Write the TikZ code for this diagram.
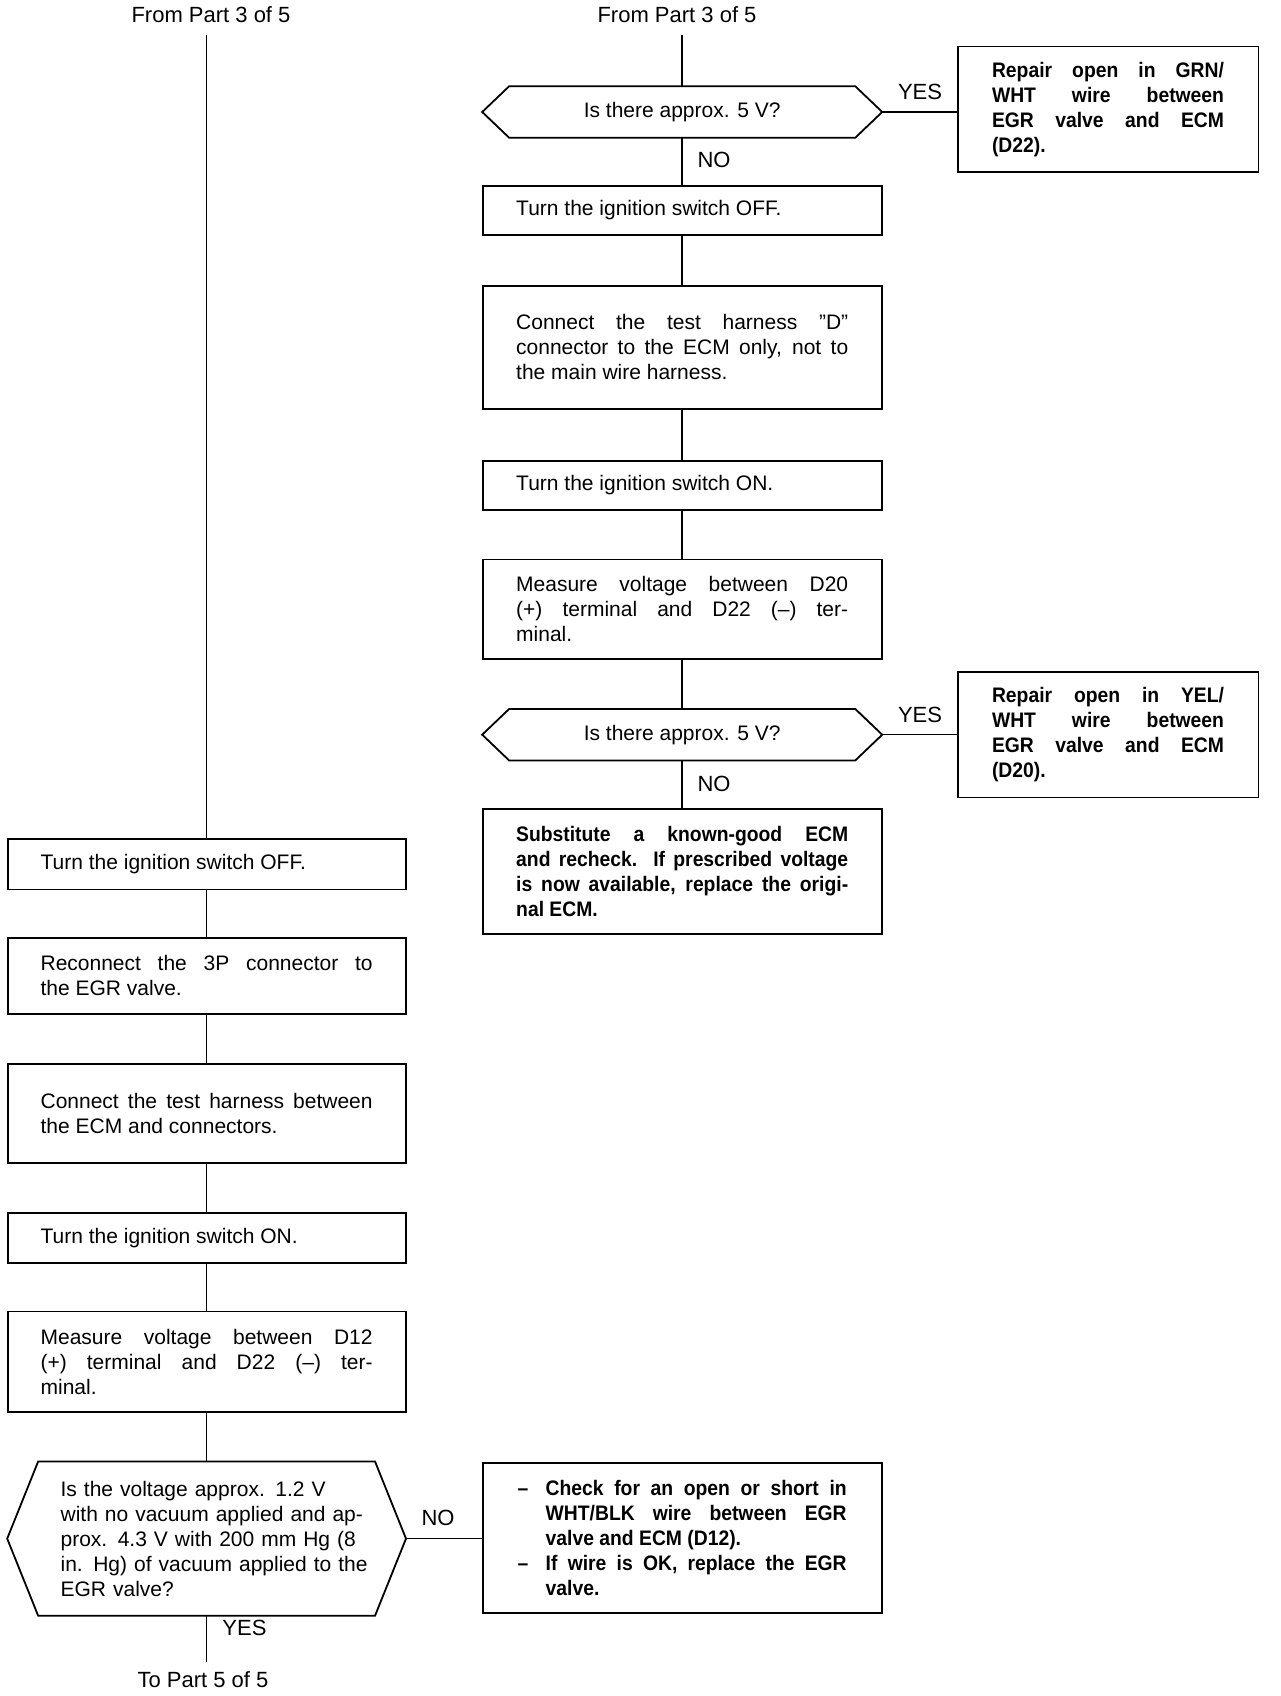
\documentclass[tikz,border=0pt]{standalone}
\usepackage{fontspec}
\setmainfont{Liberation Sans}
\newfontfamily\cfont{Liberation Sans}[FakeStretch=0.92]
\usetikzlibrary{calc}
\tikzset{
  stepbox/.style={draw, line width=0.9pt, rectangle, text width=166pt, inner xsep=16.75pt,
    inner ysep=0pt, align=justify, font=\fontsize{10.5}{12.5}\selectfont},
  boldbox/.style={stepbox, font=\cfont\bfseries\fontsize{10.5}{12.5}\selectfont},
  repbox/.style={boldbox, text width=116pt, inner xsep=17.2pt, minimum height=62.75pt},
  decnode/.style={rectangle, inner ysep=0pt, align=center, font=\fontsize{10.5}{12.5}\selectfont},
  hexline/.style={line width=0.9pt},
  lbl/.style={font=\fontsize{11}{13}\selectfont, inner sep=1pt},
  conn/.style={line width=0.75pt}
}
\newcommand{\drawhexagon}[2]{%
  \draw[hexline] (#1.west) -- ($(#1.north west)+(#2,0)$) -- ($(#1.north east)+(-#2,0)$)
    -- (#1.east) -- ($(#1.south east)+(-#2,0)$) -- ($(#1.south west)+(#2,0)$) -- cycle;}
\newcommand{\ind}{\hspace*{14.5pt}}
\begin{document}
\begin{tikzpicture}[x=0.5pt,y=-0.5pt]
\useasboundingbox (0,0) rectangle (1280,1696);
\fill[white] (0,0) rectangle (1280,1696);

% ---------- right column ----------
\node[lbl] (fromR) at (677,15) {From Part 3 of 5};
\node[decnode, minimum width=199.6pt, minimum height=25.4pt] (d1) at (682.2,112) {Is there approx. 5 V?};
\drawhexagon{d1}{27}
\node[repbox] (rep1) at (1108,109.3) {Repair open in GRN/\linebreak WHT wire between\linebreak EGR valve and ECM\linebreak (D22).};
\node[stepbox, minimum height=24.4pt] (roff) at (682.2,210.4) {Turn the ignition switch OFF.};
\node[stepbox, minimum height=61.7pt] (rconD) at (682.2,347.3) {Connect the test harness ''D''\linebreak connector to the ECM only, not to\linebreak the main wire harness.};
\node[stepbox, minimum height=24.3pt] (ron) at (682.2,485.3) {Turn the ignition switch ON.};
\node[stepbox, minimum height=49.8pt] (rmeas) at (682.2,609.2) {Measure voltage between D20\linebreak (+) terminal and D22 (\textendash) ter-\linebreak minal.};
\node[decnode, minimum width=199.6pt, minimum height=25.4pt] (d2) at (682.2,734.7) {Is there approx. 5 V?};
\drawhexagon{d2}{27}
\node[repbox] (rep2) at (1108,734.7) {Repair open in YEL/\linebreak WHT wire between\linebreak EGR valve and ECM\linebreak (D20).};
\node[boldbox, minimum height=62.25pt] (subst) at (682.2,871.5) {Substitute a known-good ECM\linebreak and recheck. If prescribed voltage\linebreak is now available, replace the origi-\linebreak nal ECM.};

\node[lbl] (yes1) at (920,92) {YES};
\node[lbl] (no1) at (714,160) {NO};
\node[lbl] (yes2) at (920,715) {YES};
\node[lbl] (no2) at (714,784) {NO};

\draw[conn, shorten <=5pt] (d1.north |- fromR.south) -- (d1.north);
\draw[conn] (d1.east) -- (d1.east -| rep1.west);
\draw[conn] (d1.south) -- (roff.north);
\draw[conn] (roff.south) -- (rconD.north);
\draw[conn] (rconD.south) -- (ron.north);
\draw[conn] (ron.south) -- (rmeas.north);
\draw[conn] (rmeas.south) -- (d2.north);
\draw[conn] (d2.east) -- (rep2.west);
\draw[conn] (d2.south) -- (subst.north);

% ---------- left column ----------
\node[lbl] (fromL) at (211,15) {From Part 3 of 5};
\node[stepbox, text width=166pt, inner xsep=16.5pt, minimum height=25.4pt] (loff) at (206.6,864) {Turn the ignition switch OFF.};
\node[stepbox, inner xsep=16.5pt, minimum height=37.9pt] (recon) at (206.6,975.9) {Reconnect the 3P connector to\linebreak the EGR valve.};
\node[stepbox, inner xsep=16.5pt, minimum height=49.7pt] (lconn) at (206.6,1113.3) {Connect the test harness between\linebreak the ECM and connectors.};
\node[stepbox, inner xsep=16.5pt, minimum height=24.85pt] (lon) at (206.6,1237.9) {Turn the ignition switch ON.};
\node[stepbox, inner xsep=16.5pt, minimum height=50.3pt] (lmeas) at (206.6,1361.7) {Measure voltage between D12\linebreak (+) terminal and D22 (\textendash) ter-\linebreak minal.};
\node[decnode, align=left, text width=175pt, inner xsep=12pt, minimum height=76.8pt] (d3) at (206.6,1538.6) {\ind Is the voltage approx. 1.2 V\\ \ind with no vacuum applied and ap-\\ \ind prox. 4.3 V with 200 mm Hg (8\\ \ind in. Hg) of vacuum applied to the\\ \ind EGR valve?};
\drawhexagon{d3}{31}
\node[boldbox, text width=164.5pt, inner xsep=17.55pt, minimum height=75pt] (chk) at (682.2,1538) {\hangindent=14pt\hangafter=1\noindent\makebox[14pt][l]{\textendash}Check for an open or short in\linebreak WHT/BLK wire between EGR\linebreak valve and ECM (D12).\par
\hangindent=14pt\hangafter=1\noindent\makebox[14pt][l]{\textendash}If wire is OK, replace the EGR\linebreak valve.\par};
\node[lbl] (toP) at (203,1680) {To Part 5 of 5};

\node[lbl] (no3) at (438,1518) {NO};
\node[lbl] (yes3) at (244.5,1628) {YES};

\draw[conn, shorten <=5pt] (loff.north |- fromL.south) -- (loff.north);
\draw[conn] (loff.south) -- (recon.north);
\draw[conn] (recon.south) -- (lconn.north);
\draw[conn] (lconn.south) -- (lon.north);
\draw[conn] (lon.south) -- (lmeas.north);
\draw[conn] (lmeas.south) -- (d3.north);
\draw[conn] (d3.east) -- (d3.east -| chk.west);
\draw[conn, shorten >=4pt] (d3.south) -- (d3.south |- toP.north);
\end{tikzpicture}
\end{document}
